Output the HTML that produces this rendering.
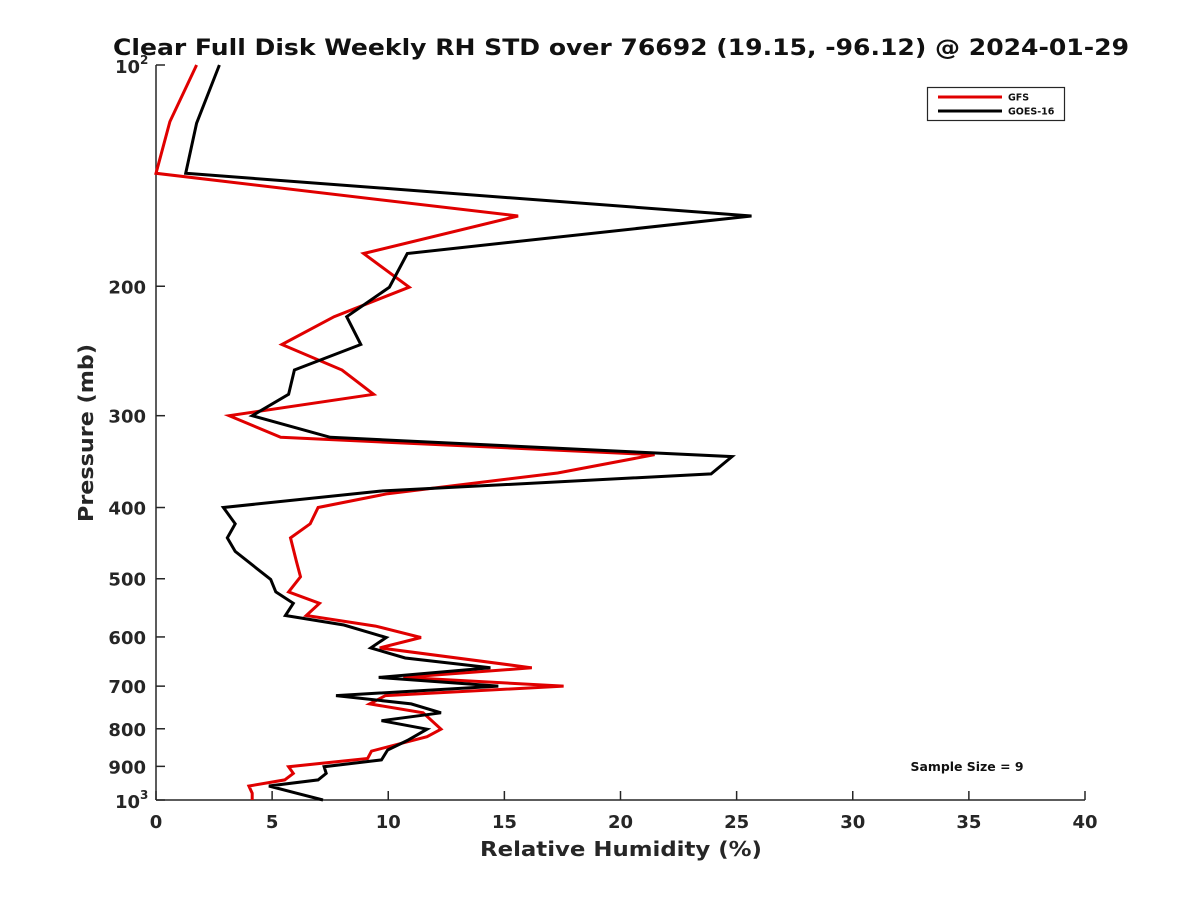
<!DOCTYPE html>
<html><head><meta charset="utf-8"><style>
body{margin:0;background:#fff}
svg{display:block;font-family:"DejaVu Sans","Liberation Sans",sans-serif;font-weight:bold}
</style></head><body>
<svg id="chart" width="1200" height="900">
<rect width="1200" height="900" fill="#fff"/>
<text x="621" y="55" text-anchor="middle" font-size="22" textLength="1016" lengthAdjust="spacingAndGlyphs" fill="#111">Clear Full Disk Weekly RH STD over 76692 (19.15, -96.12) @ 2024-01-29</text>
<g id="axes"></g>
<g id="series"></g>
<text x="621" y="856" text-anchor="middle" font-size="20" textLength="282" lengthAdjust="spacingAndGlyphs" fill="#262626">Relative Humidity (%)</text>
<text transform="translate(93,433) rotate(-90)" text-anchor="middle" font-size="20" textLength="178" lengthAdjust="spacingAndGlyphs" fill="#262626">Pressure (mb)</text>
<g>
<rect x="927.5" y="87.5" width="137" height="33" fill="#fff" stroke="#262626" stroke-width="1.2"/>
<line x1="938" y1="97" x2="1002" y2="97" stroke="#e00000" stroke-width="3"/>
<text x="1008" y="100.5" font-size="9.5" fill="#111">GFS</text>
<line x1="938" y1="111" x2="1002" y2="111" stroke="#000" stroke-width="3"/>
<text x="1008" y="114.5" font-size="9.5" fill="#111">GOES-16</text>
</g>
<text x="967" y="771" text-anchor="middle" font-size="12" textLength="113" lengthAdjust="spacingAndGlyphs" fill="#111">Sample Size = 9</text>
</svg>
<script>
const xTicks=[0,5,10,15,20,25,30,35,40];
const yTicks=[100,200,300,400,500,600,700,800,900,1000];
const yTickLabels=["10^2","200","300","400","500","600","700","800","900","10^3"];
const gfsP=[100,119.4,140.4,160.5,180.5,200.6,220,240,260,280.6,300,321,339,359,383,400,421,440,474,497,521,540,561,580,601,621,661,681,700,721,740,761,801,820,858,878,901,920,939,957,979,1000];
const gfsRH=[1.75,0.6,0,15.59,8.94,10.9,7.67,5.42,8.01,9.37,3.15,5.37,21.47,17.29,9.97,6.98,6.64,5.79,6.05,6.22,5.71,7.04,6.47,9.45,11.41,9.63,16.18,10.65,17.55,9.88,9.2,11.5,12.27,11.67,9.28,9.11,5.71,5.91,5.54,4.0,4.14,4.14];
const goesP=[100,120,140.4,160.5,180.5,200.6,220,240,260,280.6,300,321,341,360,380,400,421,440,459,482,501,521,540,561,578,601,621,641,661,681,700,721,740,761,780,801,830,855,882,901,920,939,957,979,1000];
const goesRH=[2.73,1.75,1.28,25.64,10.82,10.05,8.21,8.82,5.96,5.71,4.14,7.5,24.8,23.9,9.65,2.9,3.41,3.07,3.41,4.26,4.94,5.16,5.91,5.57,8.09,9.91,9.25,10.73,14.4,9.59,14.74,7.75,10.99,12.27,9.71,11.67,10.82,9.97,9.71,7.24,7.33,6.98,4.86,6.05,7.19];
const X0=156,X1=1085,Y0=65,Y1=800;
const xs=v=>X0+(v-0)/(40-0)*(X1-X0);
const ys=p=>Y0+Math.log10(p/100)*(Y1-Y0);
const NS="http://www.w3.org/2000/svg";
function mk(tag,attrs,parent){const e=document.createElementNS(NS,tag);for(const k in attrs)e.setAttribute(k,attrs[k]);parent.appendChild(e);return e;}
const ax=document.getElementById('axes');
let a=mk('line',{x1:X0,y1:Y0,x2:X0,y2:Y1,stroke:'#262626','stroke-width':1.5},ax);


a=mk('line',{x1:X0,y1:Y1,x2:X1,y2:Y1,stroke:'#262626','stroke-width':1.5},ax);


xTicks.forEach(v=>{
 const t=mk('line',{x1:xs(v),y1:Y1,x2:xs(v),y2:Y1-9,stroke:'#262626','stroke-width':1.5},ax);
 
 
 const l=mk('text',{x:xs(v),y:Y1+28,'text-anchor':'middle','font-size':18,fill:'#262626'},ax);
 l.textContent=v;
 
 
});
yTicks.forEach((p,i)=>{
 const t=mk('line',{x1:X0,y1:ys(p),x2:X0+9,y2:ys(p),stroke:'#262626','stroke-width':1.5},ax);
 
 
 const lab=yTickLabels[i];
 if(lab.indexOf('^')>=0){
  const parts=lab.split('^');
  const l=mk('text',{x:X0-16,y:ys(p)+8,'text-anchor':'end','font-size':18,fill:'#262626'},ax);
  l.textContent=parts[0];
  
  
  const s=mk('text',{x:X0-16,y:ys(p)-1,'text-anchor':'start','font-size':12,fill:'#262626'},ax);
  s.textContent=parts[1];
  
  
 } else {
  const l=mk('text',{x:X0-10,y:ys(p)+7,'text-anchor':'end','font-size':18,fill:'#262626'},ax);
  l.textContent=lab;
  
  
 }
});
const sg=document.getElementById('series');
function line(P,R,color,name){
 const d=P.map((p,i)=>(i?'L':'M')+xs(R[i]).toFixed(1)+' '+ys(p).toFixed(1)).join(' ');
 const e=mk('path',{d:d,fill:'none',stroke:color,'stroke-width':3,'stroke-linejoin':'miter'},sg);
 
 
}
line(gfsP,gfsRH,'#e00000','gfs-line');
line(goesP,goesRH,'#000','goes16-line');
</script>
</body></html>
